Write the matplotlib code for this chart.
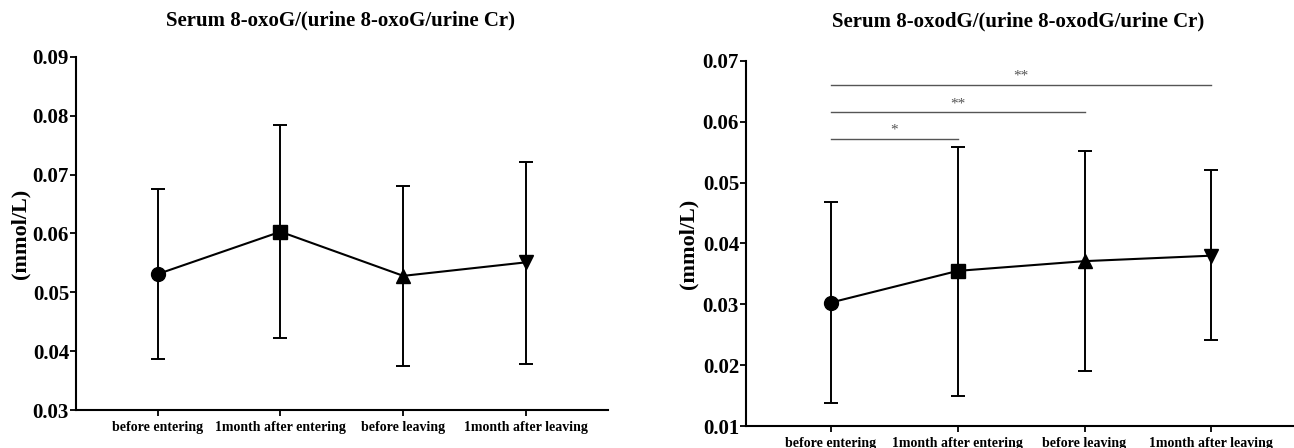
import matplotlib
matplotlib.use('Agg')
import matplotlib.pyplot as plt
import numpy as np

plt.rcParams['font.family'] = ['Liberation Serif', 'DejaVu Serif']
plt.rcParams['font.weight'] = 'bold'

categories = ['before entering', '1month after entering', 'before leaving', '1month after leaving']

oxoG_mean = [0.0531, 0.0603, 0.0528, 0.0551]
oxoG_upper = [0.0676, 0.0784, 0.0680, 0.0722]
oxoG_lower = [0.0387, 0.0422, 0.0375, 0.0379]

oxodG_mean = [0.0303, 0.0355, 0.0371, 0.0380]
oxodG_upper = [0.0469, 0.0559, 0.0552, 0.0520]
oxodG_lower = [0.0138, 0.0149, 0.0191, 0.0241]

markers = ['o', 's', '^', 'v']

sig_pairs = [(0, 1), (0, 2), (0, 3)]
sig_levels = [0.0572, 0.0616, 0.0661]
sig_labels = ['*', '**', '**']

W, H = 1294, 448
fig = plt.figure(figsize=(W / 100, H / 100), dpi=100)


def px_axes(x0, y_top, x1, y_bot):
    return [x0 / W, 1 - y_bot / H, (x1 - x0) / W, (y_bot - y_top) / H]


def draw_panel(ax, mean, upper, lower, ylim, yticks, xlim):
    x = np.arange(len(categories))
    ax.plot(x, mean, color='black', lw=1.5, zorder=3)
    for i in range(len(categories)):
        err = [[mean[i] - lower[i]], [upper[i] - mean[i]]]
        ax.errorbar([x[i]], [mean[i]], yerr=err, fmt=markers[i], color='black',
                    ms=10, ecolor='black', elinewidth=1.4, capsize=5, capthick=1.4, zorder=4)
    ax.set_xlim(*xlim)
    ax.set_ylim(*ylim)
    ax.set_yticks(yticks)
    ax.set_yticklabels([f'{v:.2f}' for v in yticks], fontsize=15, fontweight='bold')
    ax.set_xticks(x)
    ax.set_xticklabels(categories, fontsize=10, fontweight='bold')
    for s in ['top', 'right']:
        ax.spines[s].set_visible(False)
    for s in ['left', 'bottom']:
        ax.spines[s].set_linewidth(1.5)
        ax.spines[s].set_color('black')
    ax.tick_params(axis='y', length=4, width=1.3, pad=1)
    ax.tick_params(axis='x', length=4, width=1.3, pad=4)
    ax.set_ylabel('(mmol/L)', fontsize=16, fontweight='bold')


ax1 = fig.add_axes(px_axes(76, 57, 608, 410))
draw_panel(ax1, oxoG_mean, oxoG_upper, oxoG_lower, (0.03, 0.09),
           [0.03, 0.04, 0.05, 0.06, 0.07, 0.08, 0.09], (-0.665, 3.667))
ax1.yaxis.set_label_coords((30 - 76) / (608 - 76), 0.5)

ax2 = fig.add_axes(px_axes(746, 61, 1300, 426))
draw_panel(ax2, oxodG_mean, oxodG_upper, oxodG_lower, (0.01, 0.07),
           [0.01, 0.02, 0.03, 0.04, 0.05, 0.06, 0.07], (-0.671, 3.70))
ax2.yaxis.set_label_coords((698 - 746) / (1300 - 746), 0.5)

for (a, b), lvl, lab in zip(sig_pairs, sig_levels, sig_labels):
    ax2.plot([a, b], [lvl, lvl], color='#555555', lw=1.0, zorder=2)
    ax2.text((a + b) / 2, lvl + 0.0003, lab, ha='center', va='bottom',
             fontsize=11, color='#555555', fontweight='normal')

fig.text(166 / W, 1 - 20 / H, 'Serum 8-oxoG/(urine 8-oxoG/urine Cr)', ha='left', va='center',
         fontsize=15, fontweight='bold')
fig.text(832 / W, 1 - 21 / H, 'Serum 8-oxodG/(urine 8-oxodG/urine Cr)', ha='left', va='center',
         fontsize=15, fontweight='bold')

fig.savefig('out.png', dpi=100)
